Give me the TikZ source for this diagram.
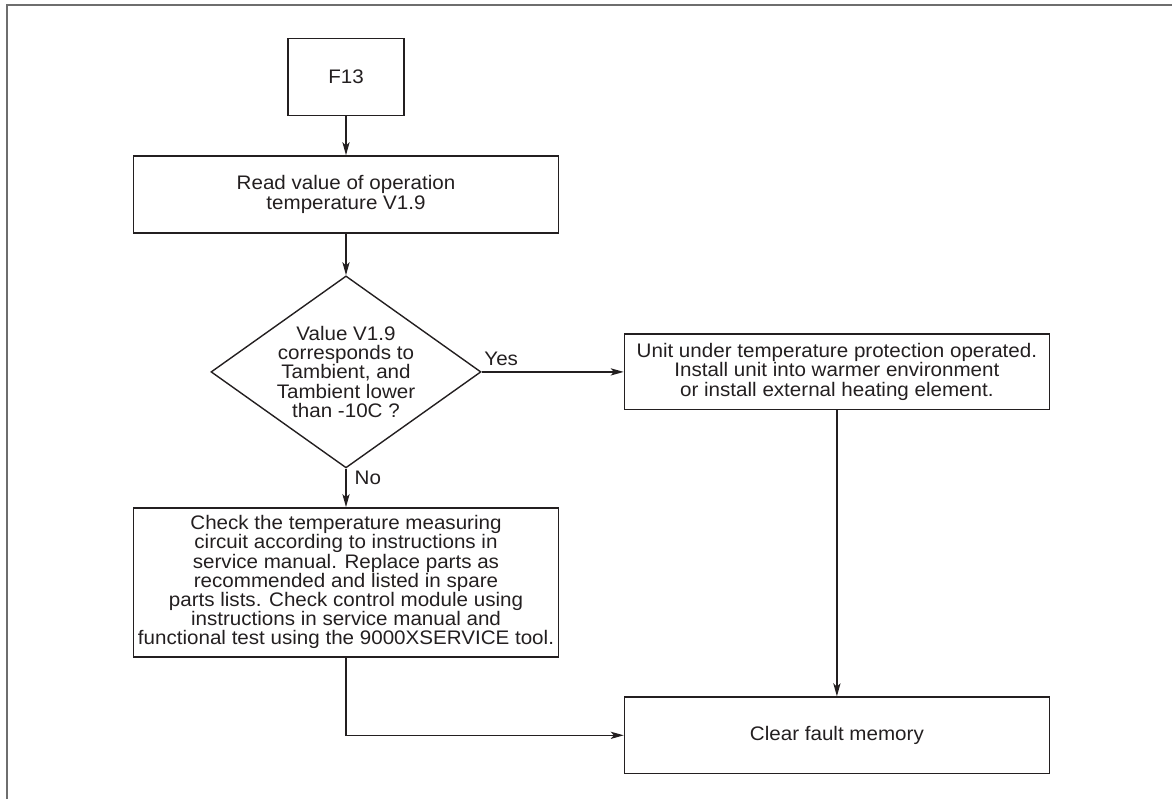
\documentclass[tikz,border=0pt]{standalone}
\usepackage{fontspec}
\setmainfont{Liberation Sans}[FakeStretch=1.05]
\usepackage{xcolor}
\usepackage{tikz}
\usetikzlibrary{arrows.meta,positioning,shapes.geometric}
\definecolor{inkgray}{RGB}{35,31,32}
\definecolor{framegray}{RGB}{110,110,110}

\begin{document}
\begin{tikzpicture}[node distance=19.5pt,>={Stealth[length=6.5pt,width=3.6pt,inset=1.6pt]},
  every node/.style={font=\fontsize{9.8}{9.6}\selectfont,text=inkgray},
  box/.style={draw=inkgray,line width=0.7pt,minimum width=212.5pt,minimum height=38.5pt,align=center,inner sep=2pt},
  decision/.style={draw=inkgray,line width=0.7pt,diamond,aspect=1.406,minimum width=135pt,minimum height=96pt,inner sep=0pt,align=center},
  link/.style={->,draw=inkgray,line width=0.7pt}]
\useasboundingbox (0,0) rectangle (586pt,-399.5pt);
\draw[framegray,line width=1pt] (3.65pt,-399.5pt) |- (586pt,-2.5pt);
\node[box,minimum width=58pt] (start) at (173pt,-38.5pt) {F13};
\node[box,below=of start] (read) {Read value of operation\\temperature V1.9};
\node[decision,below=20.8pt of read] (tcheck) {Value V1.9\\corresponds to\\Tambient, and\\Tambient lower\\than -10C ?};
\node[box,below=19.25pt of tcheck,minimum height=74.5pt] (circuit) {Check the temperature measuring\\circuit according to instructions in\\service manual. Replace parts as\\recommended and listed in spare\\parts lists. Check control module using\\instructions in service manual and\\functional test using the 9000XSERVICE tool.};
\node[box,right=71pt of tcheck,minimum height=37.75pt] (protect) {Unit under temperature protection operated.\\Install unit into warmer environment\\or install external heating element.};
\node[box,below=143pt of protect,minimum height=38.25pt] (clear) {Clear fault memory};
\draw[link] (start) -- (read);
\draw[link] (read) -- (tcheck);
\draw[link] (tcheck.east) -- node[pos=0,above right,inner sep=1pt,yshift=2pt] {Yes} (protect.west);
\draw[link] (tcheck.south) -- node[pos=0,below right,inner sep=1pt,xshift=3pt] {No} (circuit.north);
\draw[link] (protect) -- (clear);
\draw[link] (circuit.south) |- (clear.west);
\end{tikzpicture}
\end{document}
